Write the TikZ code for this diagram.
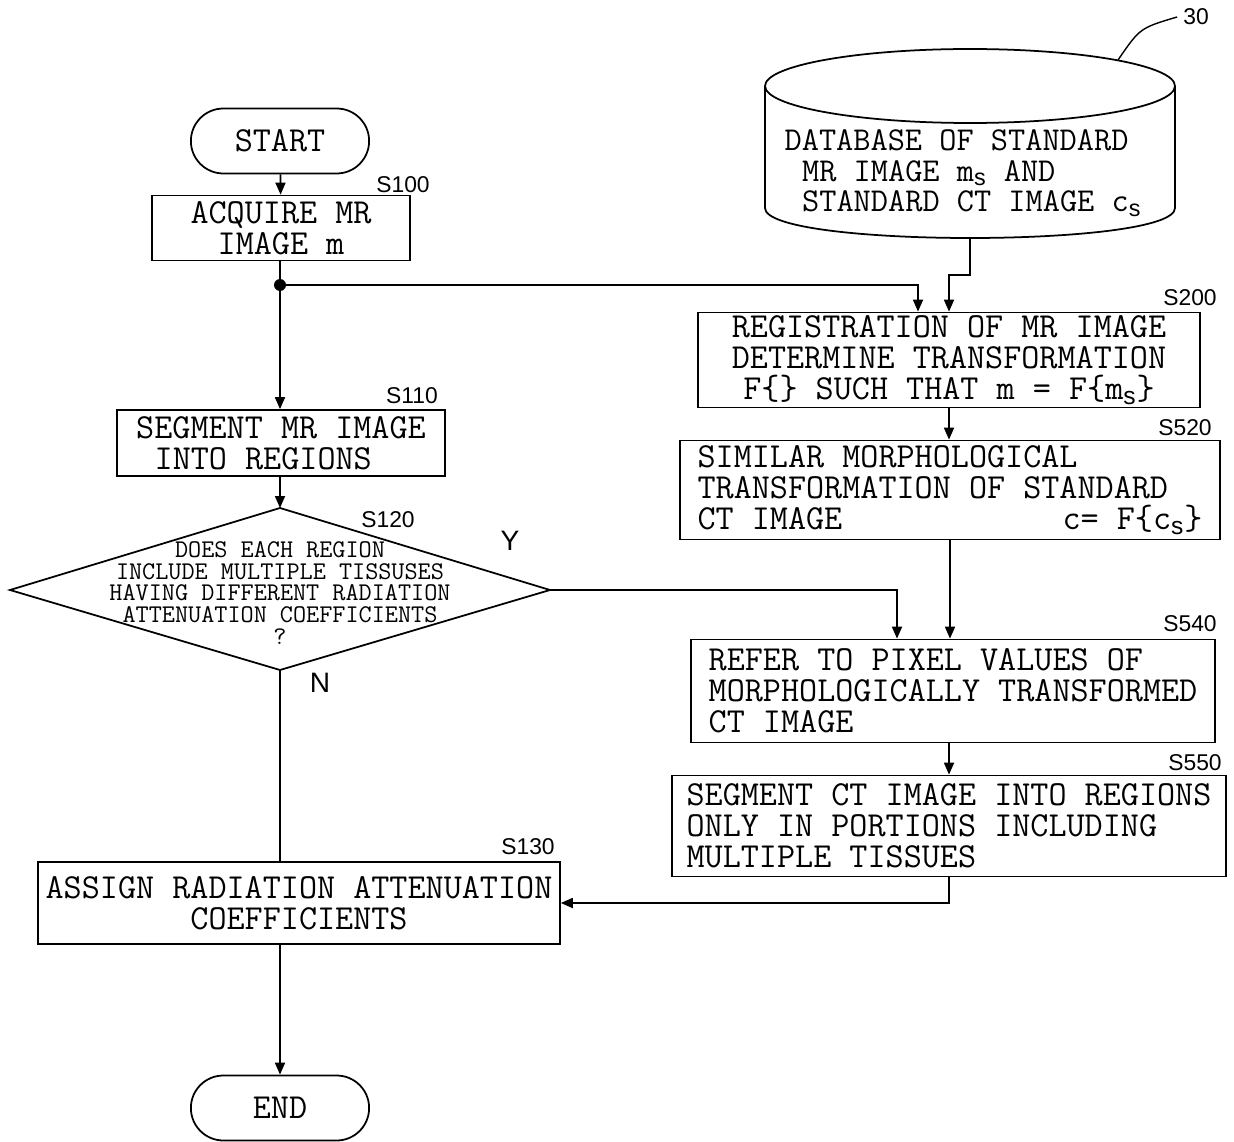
\documentclass[tikz,border=0pt]{standalone}
\usepackage{fontspec}
\setsansfont{Liberation Sans}
\usetikzlibrary{arrows.meta,shapes.geometric,shapes.misc,positioning}

\begin{document}
\begin{tikzpicture}[x=0.02cm,y=-0.02cm,{proc/.style={rectangle,draw=black,line width=1pt,inner sep=0pt,font=\ttfamily\fontsize{20}{17.6}\selectfont}},{term/.style={rounded rectangle,draw=black,line width=1pt,minimum width=3.8cm,minimum height=1.3cm,font=\ttfamily\fontsize{20}{20}\selectfont}},{decis/.style={inner sep=0pt,font=\ttfamily\fontsize{14.5}{12.5}\selectfont}},{tag/.style={font=\sffamily\fontsize{13}{13}\selectfont}},{conn/.style={line width=1pt,-{Stealth[length=2.4mm,width=2mm,inset=0pt]}}},{linest/.style={line width=1pt}}]
	\useasboundingbox (0,0) rectangle (1234,1142);
	%%left column
	\node[term] (start) at (280,141) {START};
	\node[proc,minimum width=5.16cm,minimum height=1.3cm,align=center] (s100) at (281,228) {ACQUIRE MR\\IMAGE m};
	\node[circle,fill=black,inner sep=0pt,minimum size=0.24cm] (dot) at (280,285) {};
	\node[proc,minimum width=6.56cm,minimum height=1.32cm,align=left] (s110) at (281,443) {SEGMENT MR IMAGE\\\hspace*{0.525em}INTO REGIONS};
	%%decision diamond
	\coordinate (dtop) at (280,508);
	\coordinate (dright) at (550,590);
	\coordinate (dbot) at (280,670);
	\coordinate (dleft) at (10,590);
	\draw[linest] (dtop) -- (dright) -- (dbot) -- (dleft) -- cycle;
	\node[decis,align=center] (s120) at (280,593) {DOES EACH REGION\\INCLUDE MULTIPLE TISSUSES\\HAVING DIFFERENT RADIATION\\ATTENUATION COEFFICIENTS\\?};
	\node[proc,minimum width=10.44cm,minimum height=1.64cm,align=center] (s130) at (299,903) {ASSIGN RADIATION ATTENUATION\\COEFFICIENTS};
	\node[term] (end) at (280,1108) {END};
	%%database
	\draw[linest] (970,86) ellipse [x radius=4.1cm, y radius=0.74cm];
	\draw[linest] (765,86) -- (765,208) .. controls (765,248) and (1175,248) .. (1175,208) -- (1175,86);
	\coordinate (dbbot) at (970,238);
	\coordinate (dbtop) at (1118,60);
	\node[font=\ttfamily\fontsize{19}{17.4}\selectfont,align=left] (db) at (963,173) {DATABASE OF STANDARD\\\hspace*{0.525em}MR IMAGE m\textsubscript{\sffamily s} AND\\\hspace*{0.525em}STANDARD CT IMAGE c\textsubscript{\sffamily s}};
	\node[tag] (n30) at (1196,17) {30};
	%%right column
	\node[proc,minimum width=10.04cm,minimum height=1.9cm,align=center] (s200) at (949,360) {REGISTRATION OF MR IMAGE\\DETERMINE TRANSFORMATION\\F\{\} SUCH THAT m = F\{m\textsubscript{\sffamily s}\}};
	\node[proc,minimum width=10.8cm,minimum height=1.98cm,align=left] (s520) at (950,490) {SIMILAR MORPHOLOGICAL\\TRANSFORMATION OF STANDARD\\\makebox[10.1cm][l]{CT IMAGE\hfill c= F\{c\textsubscript{\sffamily s}\}}};
	\node[proc,minimum width=10.48cm,minimum height=2.06cm,align=left] (s540) at (953,691) {REFER TO PIXEL VALUES OF\\MORPHOLOGICALLY TRANSFORMED\\CT IMAGE};
	\node[proc,minimum width=11.08cm,minimum height=2.02cm,align=left] (s550) at (949,826) {SEGMENT CT IMAGE INTO REGIONS\\ONLY IN PORTIONS INCLUDING\\MULTIPLE TISSUES};
	%%step labels
	\node[tag] (t100) at (403,185) {S100};
	\node[tag] (t110) at (412,396) {S110};
	\node[tag] (t120) at (388,520) {S120};
	\node[tag] (t130) at (528,847) {S130};
	\node[tag] (t200) at (1190,298) {S200};
	\node[tag] (t520) at (1185,428) {S520};
	\node[tag] (t540) at (1190,624) {S540};
	\node[tag] (t550) at (1195,763) {S550};
	\node[font=\sffamily\fontsize{16}{16}\selectfont] (ylbl) at (510,541) {Y};
	\node[font=\sffamily\fontsize{16}{16}\selectfont] (nlbl) at (320,683) {N};
	%%connectors
	\draw[line width=0.8pt] (dbtop) .. controls (1140,28) .. (n30.west);
	\draw[conn] (start) -- (s100);
	\draw[linest] (s100.south -| dot) -- (dot);
	\draw[conn] (dot) -- (dot |- s110.north);
	\draw[conn] (dot) -| ([xshift=-0.62cm]s200.north);
	\draw[conn] (dbbot) -- ++(0,37) -| (s200.north);
	\draw[conn] (dot |- s110.south) -- (dtop);
	\draw[conn] (s200.south) -- (s200.south |- s520.north);
	\draw[conn] (s520.south) -- (s520.south |- s540.north);
	\draw[conn] (dright) -| ([xshift=-1.12cm]s540.north);
	\draw[conn] (s550.north |- s540.south) -- (s550.north);
	\draw[conn] (s550.south) |- (s130.east);
	\draw[linest] (dbot) -- (dbot |- s130.north);
	\draw[conn] (s130.south -| end.north) -- (end.north);
\end{tikzpicture}
\end{document}
